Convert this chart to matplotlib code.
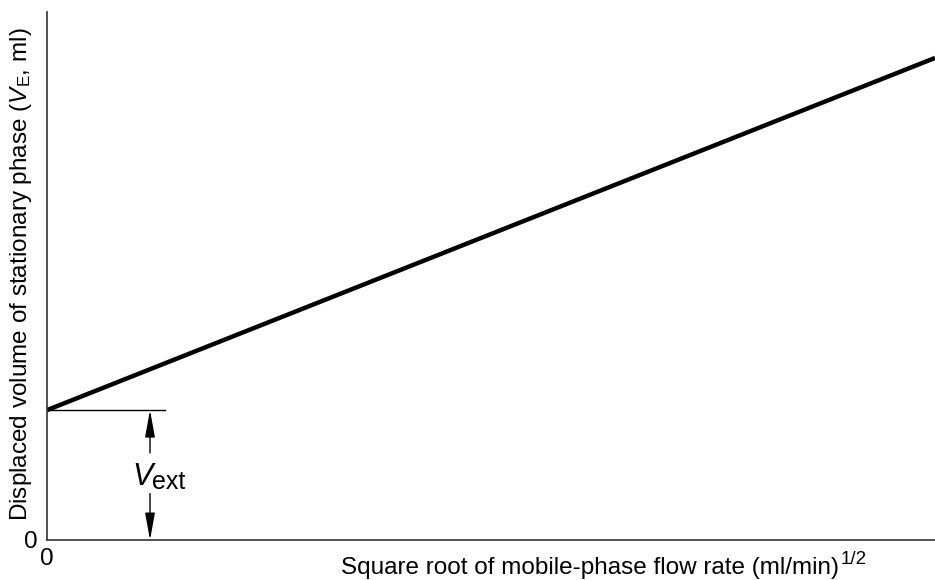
"""
Displaced stationary-phase volume against square root of flow rate
"""
import matplotlib
matplotlib.use('Agg')
import matplotlib.pyplot as plt

plt.rcParams['font.family'] = ['Liberation Sans', 'DejaVu Sans']
plt.rcParams['mathtext.fontset'] = 'custom'
plt.rcParams['mathtext.rm'] = 'Liberation Sans'
plt.rcParams['mathtext.it'] = 'Liberation Sans:italic'

# line end points (arbitrary units, axis 0..10)
flow_sqrt = [0.0, 10.0]
volume = [2.46, 9.13]
v_ext = 2.46
marker_x = 1.16     # where the V_ext arrow stands
ref_line_end = 1.33  # end of the short horizontal line

fig = plt.figure(figsize=(9.35, 5.8), dpi=100)
ax = fig.add_axes([47 / 935, 40 / 580, 888 / 935, 528 / 580])

ax.plot(flow_sqrt, volume, '-', color='black', lw=3.2, solid_capstyle='butt')
ax.plot([0, ref_line_end], [v_ext, v_ext], '-', color='black', lw=1.0)

# double arrow with label in the gap
arrow_kw = dict(arrowstyle='-|>,head_length=1.65,head_width=0.3', color='black', lw=1.0,
                mutation_scale=10, shrinkA=0, shrinkB=0)
ax.annotate('', xy=(marker_x, v_ext), xytext=(marker_x, 1.65), arrowprops=arrow_kw)
ax.annotate('', xy=(marker_x, 0.0), xytext=(marker_x, 0.88), arrowprops=arrow_kw)
ax.text(marker_x - 0.08, 1.05, 'V', fontsize=22, style='italic', ha='center', va='baseline')
ax.text(marker_x + 0.02, 0.97, 'ext', fontsize=18, ha='left', va='baseline')

ax.set_xlim(0, 10)
ax.set_ylim(0, 10)
ax.set_xticks([0])
ax.set_yticks([0])
ax.set_xticklabels(['0'], fontsize=17.5)
ax.set_yticklabels(['0'], fontsize=17.5)
ax.tick_params(axis='x', length=0, pad=6)
ax.tick_params(axis='y', length=0, pad=7)

for side in ['top', 'right']:
    ax.spines[side].set_visible(False)
for side in ['left', 'bottom']:
    ax.spines[side].set_linewidth(1.2)
    ax.spines[side].set_color('#333333')

fig.text(21 / 935, 1 - 274 / 580,
         r'Displaced volume of stationary phase ($V_{\mathrm{E}}$, ml)',
         fontsize=17.5, rotation=90, ha='center', va='center')
fig.text(341 / 935, 1 - 574 / 580, 'Square root of mobile-phase flow rate (ml/min)',
         fontsize=17.5, ha='left', va='baseline')
fig.text(841 / 935, 1 - 564 / 580, '1/2', fontsize=13.5, ha='left', va='baseline')

fig.savefig('out.png', dpi=100)
